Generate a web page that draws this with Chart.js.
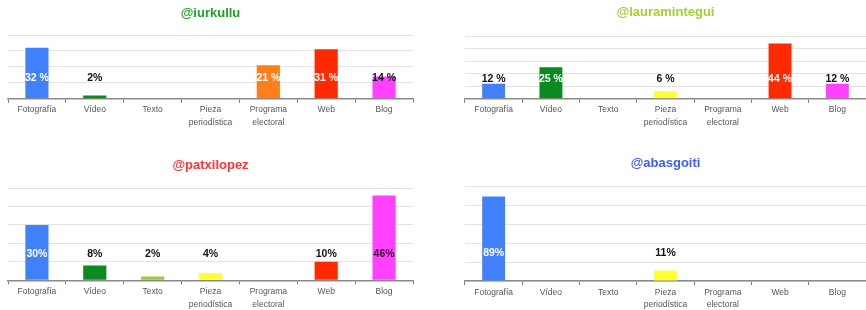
<!DOCTYPE html>
<html>
<head>
<meta charset="utf-8">
<script src="https://cdn.jsdelivr.net/npm/chart.js@4"></script>
<style>
  html, body { margin: 0; padding: 0; background: #fff; }
  body { width: 866px; height: 310px; position: relative; overflow: hidden; }
  .box { position: absolute; }
</style>
</head>
<body>
<div class="box" style="left:0;top:0;width:433px;height:155px"><canvas id="c1"></canvas></div>
<div class="box" style="left:433px;top:0;width:433px;height:155px"><canvas id="c2"></canvas></div>
<div class="box" style="left:0;top:153px;width:433px;height:157px"><canvas id="c3"></canvas></div>
<div class="box" style="left:433px;top:153px;width:433px;height:157px"><canvas id="c4"></canvas></div>
<script>
var categories = ['Fotografía', 'Vídeo', 'Texto', ['Pieza', 'periodística'], ['Programa', 'electoral'], 'Web', 'Blog'];

var iurkulluValues = [32, 2, 0, 0, 21, 31, 14];
var iurkulluLabels = ['32 %', '2%', '', '', '21 %', '31 %', '14 %'];

var lauraValues = [12, 25, 0, 6, 0, 44, 12];
var lauraLabels = ['12 %', '25 %', '', '6 %', '', '44 %', '12 %'];

var patxiValues = [30, 8, 2, 4, 0, 10, 46];
var patxiLabels = ['30%', '8%', '2%', '4%', '', '10%', '46%'];

var abasgoitiValues = [89, 0, 0, 11, 0, 0, 0];
var abasgoitiLabels = ['89%', '', '', '11%', '', '', ''];

var barColors = ['#4080fb', '#0b8a1f', '#99cc33', '#ffff33', '#ff7f1a', '#ff2a00', '#ff40ff'];
var FONT = '"Liberation Sans", Arial, sans-serif';

// draws the value labels at a fixed height above the baseline
var valueLabels = {
  id: 'valueLabels',
  afterDatasetsDraw: function(chart, args, opts) {
    var ctx = chart.ctx;
    var meta = chart.getDatasetMeta(0);
    var base = chart.scales.y.getPixelForValue(0);
    ctx.save();
    ctx.font = 'bold 10.5px ' + FONT;
    ctx.textAlign = 'center';
    ctx.textBaseline = 'middle';
    meta.data.forEach(function(bar, i) {
      var txt = opts.labels[i];
      if (!txt) return;
      ctx.fillStyle = opts.colors[i];
      ctx.fillText(txt, bar.x, base - opts.offset);
    });
    ctx.restore();
  }
};

function makeChart(id, p) {
  var ctx = document.getElementById(id).getContext('2d');
  return new Chart(ctx, {
    type: 'bar',
    data: {
      labels: categories,
      datasets: [{
        data: p.values,
        backgroundColor: barColors,
        barPercentage: 0.4,
        categoryPercentage: 1
      }]
    },
    plugins: [valueLabels],
    options: {
      responsive: true,
      maintainAspectRatio: false,
      animation: false,
      events: [],
      layout: { padding: { left: p.left, right: p.right, top: 0, bottom: 0 } },
      plugins: {
        legend: { display: false },
        tooltip: { enabled: false },
        title: {
          display: true,
          text: p.title,
          color: p.titleColor,
          fullSize: false,
          font: { family: FONT, size: 13, weight: 'bold' },
          padding: { top: p.titleY - 7.8, bottom: p.plotTop - p.titleY - 7.8 }
        },
        valueLabels: { labels: p.labels, colors: p.labelColors, offset: p.labelOffset }
      },
      scales: {
        x: {
          offset: true,
          grid: { display: true, drawOnChartArea: false, tickLength: 4, color: '#777', offset: true },
          border: { display: true, color: '#8a8a8a', width: 1.5 },
          ticks: {
            color: '#555',
            padding: 1,
            maxRotation: 0,
            autoSkip: false,
            font: { family: FONT, size: 8.5, lineHeight: 1.5 }
          },
          afterFit: function(axis) { axis.height = p.height - p.baseline; }
        },
        y: {
          min: 0,
          max: p.max,
          ticks: { display: false, stepSize: p.step },
          grid: { color: '#e2e2e2', drawTicks: false },
          border: { display: false },
          afterFit: function(axis) { axis.width = 0; }
        }
      }
    }
  });
}

makeChart('c1', {
  title: '@iurkullu', titleColor: '#22a02c', values: iurkulluValues, labels: iurkulluLabels,
  labelColors: ['#fff', '#111', '#111', '#111', '#fff', '#fff', '#111'],
  max: 40, step: 10, left: 8, right: 20, height: 155, titleY: 13.5, plotTop: 35, baseline: 98.7, labelOffset: 21
});
makeChart('c2', {
  title: '@lauramintegui', titleColor: '#a5d032', values: lauraValues, labels: lauraLabels,
  labelColors: ['#111', '#fff', '#111', '#111', '#111', '#fff', '#111'],
  max: 50, step: 10, left: 32, right: 0, height: 155, titleY: 12.7, plotTop: 36, baseline: 98.7, labelOffset: 20
});
makeChart('c3', {
  title: '@patxilopez', titleColor: '#ff3333', values: patxiValues, labels: patxiLabels,
  labelColors: ['#fff', '#111', '#111', '#111', '#111', '#111', '#3a0838'],
  max: 50, step: 10, left: 8, right: 20, height: 157, titleY: 12, plotTop: 35, baseline: 127.3, labelOffset: 26
});
makeChart('c4', {
  title: '@abasgoiti', titleColor: '#3d5cff', values: abasgoitiValues, labels: abasgoitiLabels,
  labelColors: ['#fff', '#111', '#111', '#111', '#111', '#111', '#111'],
  max: 100, step: 20, left: 32, right: 0, height: 157, titleY: 10.3, plotTop: 33, baseline: 128, labelOffset: 28
});
</script>
</body>
</html>
